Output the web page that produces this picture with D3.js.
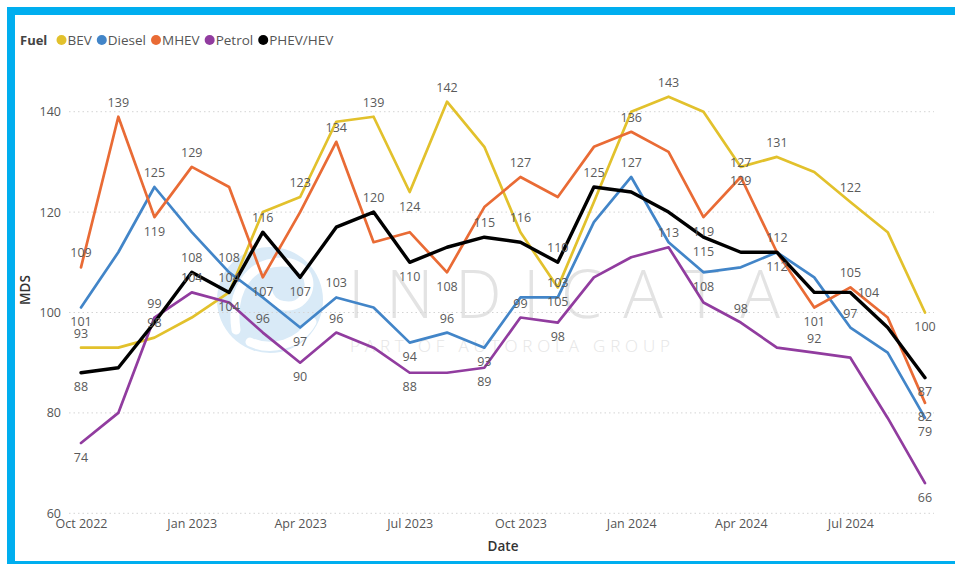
<!DOCTYPE html>
<html>
<head>
<meta charset="utf-8">
<script src="https://cdn.jsdelivr.net/npm/d3@7"></script>
<style>
  html, body { margin: 0; padding: 0; background: #fff; }
  svg { display: block; }
  text { font-family: "Segoe UI", "Open Sans", "Noto Sans", sans-serif; }
</style>
</head>
<body>
<svg id="chart" width="955" height="564"></svg>
<script>
// Monthly MDS by fuel type, Oct 2022 – Sep 2024
const months = ["2022-10","2022-11","2022-12","2023-01","2023-02","2023-03","2023-04","2023-05","2023-06",
  "2023-07","2023-08","2023-09","2023-10","2023-11","2023-12","2024-01","2024-02","2024-03","2024-04",
  "2024-05","2024-06","2024-07","2024-08","2024-09"];

const bev    = [93, 93, 95, 99, 104, 120, 123, 138, 139, 124, 142, 133, 116, 105, 122, 140, 143, 140, 129, 131, 128, 122, 116, 100];
const diesel = [101, 112, 125, 116, 108, 103, 97, 103, 101, 94, 96, 93, 103, 103, 118, 127, 114, 108, 109, 112, 107, 97, 92, 79];
const mhev   = [109, 139, 119, 129, 125, 107, 120, 134, 114, 116, 108, 121, 127, 123, 133, 136, 132, 119, 127, 112, 101, 105, 99, 82];
const petrol = [74, 80, 99, 104, 102, 96, 90, 96, 93, 88, 88, 89, 99, 98, 107, 111, 113, 102, 98, 93, 92, 91, 79, 66];
const phev   = [88, 89, 98, 108, 104, 116, 107, 117, 120, 110, 113, 115, 114, 110, 125, 124, 120, 115, 112, 112, 104, 104, 97, 87];

const seriesNames = ["BEV", "Diesel", "MHEV", "Petrol", "PHEV/HEV"];
const yTicks = [60, 80, 100, 120, 140];
const xTickLabels = ["Oct 2022","Jan 2023","Apr 2023","Jul 2023","Oct 2023","Jan 2024","Apr 2024","Jul 2024"];

// Which points carry a value label, and on which side of the line it sits
// (a = above, b = below, c = on the point, r = to the right)
const labelPlacement = {
  "BEV":      [[0,"a"],[4,"b"],[6,"a"],[8,"a"],[9,"b"],[10,"a"],[12,"a"],[13,"b"],[16,"a"],[18,"b"],[19,"a"],[21,"a"],[23,"b"]],
  "Diesel":   [[0,"b"],[2,"a"],[4,"a"],[6,"b"],[7,"a"],[9,"b"],[10,"a"],[11,"b"],[13,"a"],[15,"a"],[17,"b"],[19,"a"],[21,"a"],[23,"b"]],
  "MHEV":     [[0,"a"],[1,"a"],[2,"b"],[3,"a"],[5,"b"],[7,"a"],[10,"b"],[12,"a"],[15,"a"],[17,"b"],[18,"a"],[19,"b"],[20,"b"],[21,"a"],[23,"b"]],
  "Petrol":   [[0,"b"],[2,"a"],[3,"a"],[5,"a"],[6,"b"],[7,"a"],[9,"b"],[11,"b"],[12,"a"],[13,"b"],[16,"a"],[18,"a"],[20,"a"],[23,"b"]],
  "PHEV/HEV": [[0,"b"],[2,"c"],[3,"a"],[4,"a"],[5,"a"],[6,"b"],[8,"a"],[9,"b"],[11,"a"],[13,"a"],[14,"a"],[17,"b"],[21,"r"],[23,"b"]]
};

const values = { "BEV": bev, "Diesel": diesel, "MHEV": mhev, "Petrol": petrol, "PHEV/HEV": phev };
const colors = { "BEV": "#E2C12C", "Diesel": "#4285C8", "MHEV": "#E96B35", "Petrol": "#913C9F", "PHEV/HEV": "#000000" };
const widths = { "BEV": 2.7, "Diesel": 2.7, "MHEV": 2.7, "Petrol": 2.7, "PHEV/HEV": 3.4 };

const parse = d3.timeParse("%Y-%m");
const dates = months.map(parse);

const svg = d3.select("#chart");

// Frame
svg.append("rect").attr("x", 7).attr("y", 7).attr("width", 960).attr("height", 8).attr("fill", "#00AEEF");
svg.append("rect").attr("x", 7).attr("y", 7).attr("width", 8).attr("height", 557).attr("fill", "#00AEEF");
svg.append("rect").attr("x", 7).attr("y", 561).attr("width", 960).attr("height", 3).attr("fill", "#00AEEF");

const x = d3.scaleTime().domain([dates[0], dates[dates.length - 1]]).range([81, 925]);
const y = d3.scaleLinear().domain([60, 140]).range([513.3, 111.7]);

// Watermark
const wm = svg.append("g").attr("class", "watermark");
wm.append("circle").attr("cx", 270).attr("cy", 300).attr("r", 53).attr("fill", "#d9eaf7");
wm.append("path")
  .attr("d", "M236,330 C230,290 250,262 282,262 C305,262 316,282 304,298 C294,312 270,306 268,292 M250,342 C272,352 300,344 312,322")
  .attr("fill", "none").attr("stroke", "#ffffff").attr("stroke-width", 9).attr("stroke-linecap", "round");
wm.append("text").attr("x", 348).attr("y", 318).attr("font-size", 66).attr("font-weight", 300)
  .attr("fill", "#e3e3e3").attr("textLength", 432).attr("lengthAdjust", "spacing").text("INDICATA");
wm.append("text").attr("x", 350).attr("y", 352).attr("font-size", 17).attr("font-weight", 300)
  .attr("fill", "#e6e6e6").attr("textLength", 320).attr("lengthAdjust", "spacing").text("PART OF AUTOROLA GROUP");

// Gridlines and y axis labels
const grid = svg.append("g");
grid.selectAll("line").data(yTicks).join("line")
  .attr("x1", 69).attr("x2", 934)
  .attr("y1", d => y(d)).attr("y2", d => y(d))
  .attr("stroke", "#d4d4d4").attr("stroke-width", 1).attr("stroke-dasharray", "1.5,3");

const yAxis = d3.axisLeft(y).tickValues(yTicks).tickSize(0).tickPadding(0);
const gy = svg.append("g").attr("transform", "translate(61,0)").call(yAxis);
gy.select(".domain").remove();
gy.selectAll("text").attr("font-size", 12.5).attr("fill", "#555").attr("dy", "0.32em")
  .style("font-family", "'Segoe UI', 'Open Sans', 'Noto Sans', sans-serif");

// x axis
const xTickDates = xTickLabels.map(d3.timeParse("%b %Y"));
const xAxis = d3.axisBottom(x).tickValues(xTickDates).tickFormat(d3.timeFormat("%b %Y")).tickSize(0).tickPadding(0);
const gx = svg.append("g").attr("transform", "translate(0,519)").call(xAxis);
gx.select(".domain").remove();
gx.selectAll("text").attr("font-size", 12.5).attr("fill", "#555").attr("dy", "0.75em")
  .style("font-family", "'Segoe UI', 'Open Sans', 'Noto Sans', sans-serif");

// Axis titles
svg.append("text").attr("x", 503).attr("y", 551).attr("text-anchor", "middle")
  .attr("font-size", 13.5).attr("font-weight", 600).attr("fill", "#333").text("Date");
svg.append("text").attr("transform", "translate(30,290) rotate(-90)").attr("text-anchor", "middle")
  .attr("font-size", 13.5).attr("font-weight", 600).attr("fill", "#333").text("MDS");

// Lines
const line = d3.line().x((d, i) => x(dates[i])).y(d => y(d));
const linesG = svg.append("g");
seriesNames.forEach(name => {
  linesG.append("path")
    .datum(values[name])
    .attr("fill", "none")
    .attr("stroke", colors[name])
    .attr("stroke-width", widths[name])
    .attr("stroke-linejoin", "round")
    .attr("stroke-linecap", "round")
    .attr("d", line);
});

// Value labels
const labelsG = svg.append("g");
seriesNames.forEach(name => {
  labelPlacement[name].forEach(([i, pos]) => {
    const v = values[name][i];
    let lx = x(dates[i]), ly = y(v);
    if (pos === "a") ly -= 14.5;
    else if (pos === "b") ly += 14;
    else if (pos === "r") lx += 18;
    labelsG.append("text")
      .attr("x", lx).attr("y", ly)
      .attr("text-anchor", "middle").attr("dominant-baseline", "central")
      .attr("font-size", 12.5).attr("fill", "#5a5a5a")
      .text(v);
  });
});

// Legend
const legend = svg.append("g").attr("transform", "translate(20,40)");
legend.append("text").attr("x", 0).attr("y", 0).attr("dominant-baseline", "central")
  .attr("font-size", 13).attr("font-weight", 700).attr("fill", "#444").text("Fuel");
let cx = 41.5;
seriesNames.forEach(name => {
  legend.append("circle").attr("cx", cx).attr("cy", 0).attr("r", 5).attr("fill", colors[name]);
  const t = legend.append("text").attr("x", cx + 6).attr("y", 0).attr("dominant-baseline", "central")
    .attr("font-size", 13.5).attr("fill", "#555").text(name);
  cx += 6 + t.node().getComputedTextLength() + 10;
});
</script>
</body>
</html>
